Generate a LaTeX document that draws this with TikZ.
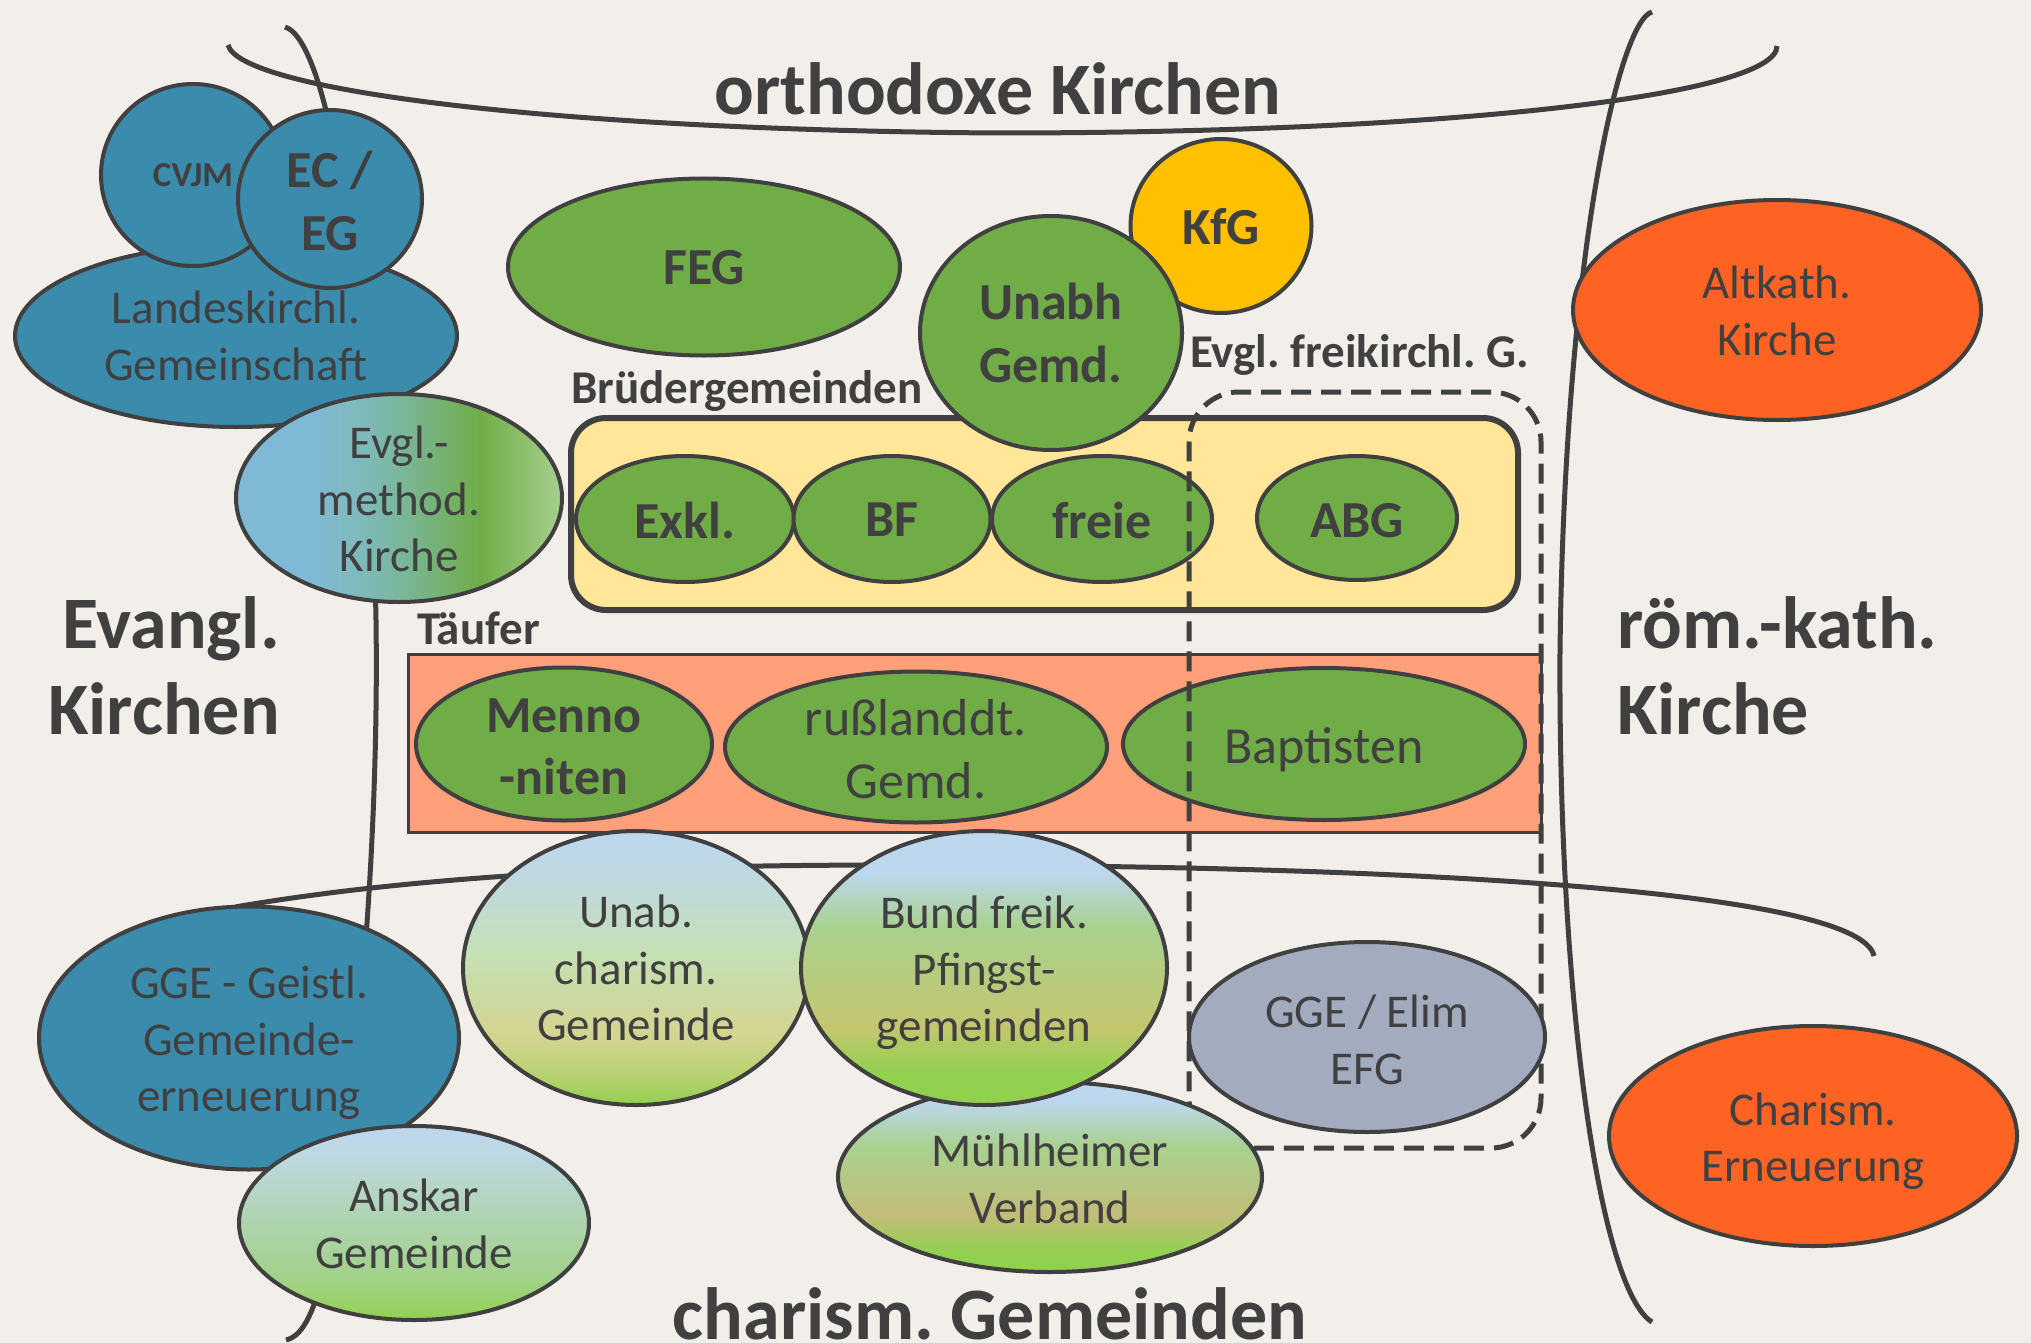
\documentclass[tikz,border=0pt]{standalone}
\usepackage{fontspec}
\setmainfont{Carlito}
\frenchspacing
\usetikzlibrary{shapes.geometric}
\definecolor{bg}{HTML}{F2EEEA}
\definecolor{dk}{HTML}{404040}
\definecolor{grn}{HTML}{70AD47}
\definecolor{teal}{HTML}{3B8BAD}
\definecolor{ybox}{HTML}{FFE699}
\definecolor{kfgc}{HTML}{FFC000}
\definecolor{orng}{HTML}{FF6323}
\definecolor{salm}{HTML}{FFA07A}
\definecolor{elimc}{HTML}{A3ACBF}
\definecolor{gA}{HTML}{92D050}
\definecolor{gB}{HTML}{B5D16E}
\definecolor{gC}{HTML}{D4D490}
\definecolor{gD}{HTML}{C5E0B4}
\definecolor{gE}{HTML}{BFD8E3}
\definecolor{gF}{HTML}{BDD7EE}
\definecolor{gG}{HTML}{A9D18E}
\definecolor{gH}{HTML}{C4C66E}
\definecolor{gI}{HTML}{C2BD78}
\definecolor{gJ}{HTML}{ADD3AE}
\definecolor{gK}{HTML}{A2D287}
\definecolor{mA}{HTML}{80B9D6}
\definecolor{mB}{HTML}{7EBAB8}
\definecolor{mC}{HTML}{78B58C}
\definecolor{mD}{HTML}{70AD47}
\definecolor{mE}{HTML}{A7D08F}
\pgfdeclareverticalshading{unabsh}{100bp}{color(0bp)=(gA); color(25bp)=(gA); color(30bp)=(gB); color(37.5bp)=(gC); color(52.5bp)=(gD); color(67.5bp)=(gE); color(75bp)=(gF); color(100bp)=(gF)}
\pgfdeclareverticalshading{bundsh}{100bp}{color(0bp)=(gA); color(25bp)=(gA); color(31bp)=(gA); color(39bp)=(gH); color(57.5bp)=(gG); color(67.5bp)=(gF); color(75bp)=(gF); color(100bp)=(gF)}
\pgfdeclareverticalshading{muehlsh}{100bp}{color(0bp)=(gA); color(25bp)=(gA); color(30bp)=(gA); color(40bp)=(gI); color(58bp)=(gG); color(70bp)=(gF); color(75bp)=(gF); color(100bp)=(gF)}
\pgfdeclareverticalshading{anssh}{100bp}{color(0bp)=(gA); color(25bp)=(gA); color(35bp)=(gK); color(50bp)=(gJ); color(68bp)=(gE); color(75bp)=(gF); color(100bp)=(gF)}
\pgfdeclarehorizontalshading{methsh}{100bp}{color(0bp)=(mA); color(25bp)=(mA); color(36bp)=(mA); color(45bp)=(mB); color(52.5bp)=(mC); color(62.5bp)=(mD); color(75bp)=(mE); color(100bp)=(mE)}
\tikzset{
 curve/.style={draw=dk, line width=5pt},
 ell/.style={ellipse, draw=dk, line width=4pt, inner sep=0pt, outer sep=0pt},
 lbl/.style={text=dk, inner sep=0pt, align=center, font=\fontsize{47}{56.4}\selectfont},
 llbl/.style={text=dk, inner sep=0pt, align=center, font=\fontsize{52}{62.4}\selectfont},
 blbl/.style={text=dk, inner sep=0pt, align=center, font=\bfseries\fontsize{52}{62.4}\selectfont},
 big/.style={text=dk, inner sep=0pt, font=\bfseries\fontsize{74}{88}\selectfont},
 mid/.style={text=dk, inner sep=0pt, font=\bfseries\fontsize{47}{56}\selectfont},
}
\begin{document}
\begin{tikzpicture}[x=1pt,y=-1pt]
\useasboundingbox (0,0) rectangle (2031,1343);
\fill[bg] (0,0) rectangle (2031,1343);
% boundary curves
\draw[curve] (228,45) .. controls (240,90) and (550,130) .. (998,133) .. controls (1450,133) and (1777,95) .. (1777,46);
\draw[curve] (285,27) .. controls (330,40) and (370,300) .. (376,620) .. controls (380,900) and (345,1200) .. (315,1302) .. controls (305,1330) and (295,1338) .. (286,1340);
\draw[curve] (1652,12) .. controls (1620,20) and (1565,250) .. (1560,650) .. controls (1558,1000) and (1600,1290) .. (1652,1322);
\draw[curve] (235,907) .. controls (450,870) and (700,865) .. (900,865) .. controls (1400,865) and (1860,890) .. (1874,956);
% top group
\node[ell, fill=kfgc, minimum width=181pt, minimum height=174pt] (kfg) at (1221,226) {};
\node[ell, fill=grn, minimum width=392pt, minimum height=177pt] (feg) at (704,267) {};
\node[ell, fill=teal, minimum width=442pt, minimum height=182pt] (lk) at (236,336) {};
\node[ell, fill=teal, minimum width=184pt, minimum height=182pt] (cvjm) at (193,175) {};
\node[ell, fill=teal, minimum width=184pt, minimum height=178pt] (ec) at (330,199) {};
\node[ell, shading=methsh, minimum width=326pt, minimum height=208pt] (meth) at (399,498) {};
% Bruedergemeinden
\node[draw=dk, line width=6pt, fill=ybox, rounded corners=35pt, minimum width=947pt, minimum height=192pt, inner sep=0pt] (bruedbox) at (1044.5,514) {};
\node[ell, fill=grn, minimum width=218pt, minimum height=126pt] (exkl) at (685,519) {};
\node[ell, fill=grn, minimum width=197pt, minimum height=126pt] (bf) at (892,519) {};
\node[ell, fill=grn, minimum width=220pt, minimum height=126pt] (freie) at (1102,519) {};
\node[ell, fill=grn, minimum width=200pt, minimum height=124pt] (abg) at (1357,518) {};
\node[ell, fill=grn, minimum width=262pt, minimum height=234pt] (unabh) at (1051,333) {};
% Taeufer
\node[draw=dk, line width=3pt, fill=salm, minimum width=1133pt, minimum height=178pt, inner sep=0pt] (taeufbox) at (974.5,743) {};
\node[ell, fill=grn, minimum width=296pt, minimum height=153pt] (menno) at (564,744) {};
\node[ell, fill=grn, minimum width=382pt, minimum height=151pt] (russ) at (916,747) {};
\node[ell, fill=grn, minimum width=402pt, minimum height=152pt] (bapt) at (1324,744) {};
% Evgl. freikirchl. dashed frame
\node[draw=dk, line width=5pt, dash pattern=on 20pt off 10pt, rounded corners=50pt, minimum width=352pt, minimum height=756pt, inner sep=0pt] (evfbox) at (1365,770) {};
% charismatic group
\node[ell, shading=muehlsh, minimum width=424pt, minimum height=190pt] (muehl) at (1050,1177) {};
\node[ell, shading=unabsh, minimum width=346pt, minimum height=274pt] (unab) at (636,968) {};
\node[ell, shading=bundsh, minimum width=366pt, minimum height=274pt] (bund) at (984,968) {};
\node[ell, fill=elimc, minimum width=356pt, minimum height=190pt] (elim) at (1367,1037) {};
\node[ell, fill=teal, minimum width=420pt, minimum height=263pt] (gge) at (249,1038) {};
\node[ell, shading=anssh, minimum width=350pt, minimum height=194pt] (anskar) at (414,1223) {};
% catholic
\node[ell, fill=orng, minimum width=408pt, minimum height=220pt] (altk) at (1777,310) {};
\node[ell, fill=orng, minimum width=408pt, minimum height=220pt] (charis) at (1813,1136) {};
% texts
\node[text=dk, inner sep=0pt, font=\bfseries\fontsize{35}{42}\selectfont] (cvjm-t) at (cvjm) {CVJM};
\node[blbl, yshift=-2pt] (ec-t) at (ec) {EC /\\EG};
\node[lbl] (lk-t) at (lk) {Landeskirchl.\\Gemeinschaft};
\node[lbl, yshift=-1pt] (meth-t) at (meth) {Evgl.-\\method.\\Kirche};
\node[blbl, yshift=-1pt] (feg-t) at (feg) {FEG};
\node[blbl] (unabh-t) at (unabh) {Unabh\\Gemd.};
\node[blbl, yshift=-1pt] (kfg-t) at (kfg) {KfG};
\node[blbl, yshift=-1pt] (exkl-t) at (exkl) {Exkl.};
\node[blbl, yshift=-1pt] (bf-t) at (bf) {BF};
\node[blbl, yshift=-1pt] (freie-t) at (freie) {freie};
\node[blbl, yshift=-3pt] (abg-t) at (abg) {ABG};
\node[blbl, yshift=-3pt] (menno-t) at (menno) {Menno\\-niten};
\node[llbl, yshift=-2pt] (russ-t) at (russ) {rußlanddt.\\Gemd.};
\node[llbl, yshift=-6pt] (bapt-t) at (bapt) {Baptisten};
\node[lbl] (unab-t) at (unab) {Unab.\\charism.\\Gemeinde};
\node[lbl, yshift=-5pt] (bund-t) at (bund) {Bund freik.\\Pfingst-\\gemeinden};
\node[lbl, yshift=-2pt] (muehl-t) at (muehl) {Mühlheimer\\Verband};
\node[lbl, yshift=-3pt] (elim-t) at (elim) {GGE / Elim\\EFG};
\node[lbl, yshift=-5pt] (gge-t) at (gge) {GGE - Geistl.\\Gemeinde-\\erneuerung};
\node[lbl, yshift=-1pt] (anskar-t) at (anskar) {Anskar\\Gemeinde};
\node[lbl, yshift=-1pt] (altk-t) at (altk) {Altkath.\\Kirche};
\node[lbl, yshift=-5pt] (charis-t) at (charis) {Charism.\\Erneuerung};
% group labels
\node[mid, anchor=base west] (bruedl) at (571,403) {Brüdergemeinden};
\node[mid, anchor=base west] (evfl) at (1190,367) {Evgl. freikirchl. G.};
\node[mid, anchor=base west] (taeufl) at (417,644) {Täufer};
\node[big, anchor=base] (ortho) at (998,115) {orthodoxe Kirchen};
\node[big, anchor=base east] (evk1) at (280,648) {Evangl.};
\node[big, anchor=base east] (evk2) at (280,734) {Kirchen};
\node[big, anchor=base west] (rk1) at (1617,648) {röm.-kath.};
\node[big, anchor=base west] (rk2) at (1617,734) {Kirche};
\node[big, anchor=base] (charg) at (990,1339) {charism. Gemeinden};
\end{tikzpicture}
\end{document}
